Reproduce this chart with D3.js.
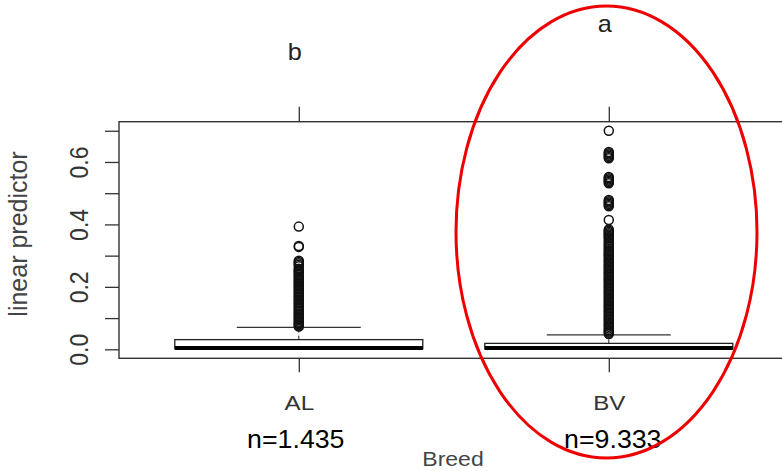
<!DOCTYPE html>
<html>
<head>
<meta charset="utf-8">
<script src="https://cdn.jsdelivr.net/npm/d3@7"></script>
<style>
  body { margin: 0; background: #fff; }
  text { font-family: "Liberation Sans", Arial, sans-serif; }
</style>
</head>
<body>
<div id="chart"></div>
<script>
// box statistics per breed
var breeds = ["AL", "BV"];
var q1 = [0.002, 0.001];
var medians = [0.004, 0.004];
var q3 = [0.031, 0.019];
var whiskLo = [0.0, 0.0];
var whiskHi = [0.070, 0.046];
var nLabels = ["n=1.435", "n=9.333"];
var groupLetters = ["b", "a"];

// outliers
var outAL = [0.393, 0.331, 0.328, 0.284, 0.280, 0.276, 0.271, 0.266, 0.258, 0.254, 0.250,
  0.246, 0.241, 0.237, 0.232, 0.228, 0.223, 0.219, 0.214, 0.210, 0.205, 0.201, 0.196,
  0.192, 0.187, 0.183, 0.178, 0.174, 0.169, 0.165, 0.160, 0.156, 0.151, 0.147, 0.142,
  0.138, 0.133, 0.129, 0.124, 0.120, 0.115, 0.111, 0.106, 0.102, 0.097, 0.093, 0.088,
  0.084, 0.080, 0.076, 0.073];
var outBV = [0.700, 0.632, 0.628, 0.624, 0.620, 0.616, 0.612, 0.552, 0.548, 0.544, 0.540,
  0.536, 0.532, 0.478, 0.474, 0.470, 0.466, 0.462, 0.458, 0.414, 0.384, 0.380, 0.376,
  0.372, 0.368, 0.364, 0.360, 0.355, 0.349, 0.343, 0.338, 0.333, 0.328, 0.322, 0.317,
  0.312, 0.307, 0.302, 0.297, 0.292, 0.287, 0.282, 0.277, 0.272, 0.267, 0.262, 0.257,
  0.252, 0.247, 0.242, 0.237, 0.232, 0.227, 0.222, 0.217, 0.212, 0.207, 0.202, 0.197,
  0.192, 0.187, 0.182, 0.177, 0.172, 0.167, 0.162, 0.157, 0.152, 0.147, 0.142, 0.137,
  0.132, 0.127, 0.122, 0.117, 0.112, 0.107, 0.102, 0.097, 0.092, 0.087, 0.082, 0.077,
  0.072, 0.067, 0.062, 0.057, 0.053, 0.049];
var outliers = [outAL, outBV];

var yTicks = [0, 0.1, 0.2, 0.3, 0.4, 0.5, 0.6, 0.7];

var width = 782, height = 471;
var plot = { left: 119, right: 788.6, top: 121.7, bottom: 358.3 };
var stretch = 1.15; // screenshot is a bit wider than tall

var svg = d3.select("#chart").append("svg")
  .attr("width", width)
  .attr("height", height);

// R style: categories at 1..n, x range padded by 4%
var x = d3.scaleLinear().domain([0.42, 2.58]).range([plot.left, plot.right]);
var y = d3.scaleLinear().domain([-0.0288, 0.729]).range([plot.bottom, plot.top]);

var ink = "#222";

function wideText(px, py, s) {
  return "translate(" + px + "," + py + ") scale(" + (s || stretch) + ",1)";
}

// boxes
breeds.forEach(function(b, i) {
  var cx = x(i + 1);
  var g = svg.append("g").attr("class", "box " + b);

  // whiskers
  g.append("line")
    .attr("x1", cx).attr("x2", cx)
    .attr("y1", y(q3[i])).attr("y2", y(whiskHi[i]))
    .attr("stroke", ink).attr("stroke-dasharray", "4,3");
  g.append("line")
    .attr("x1", x(i + 1 - 0.2)).attr("x2", x(i + 1 + 0.2))
    .attr("y1", y(whiskHi[i])).attr("y2", y(whiskHi[i]))
    .attr("stroke", "#333").attr("stroke-width", 1.3);

  g.append("rect")
    .attr("x", x(i + 1 - 0.4))
    .attr("width", x(i + 1 + 0.4) - x(i + 1 - 0.4))
    .attr("y", y(q3[i]))
    .attr("height", y(q1[i]) - y(q3[i]))
    .attr("fill", "#fff")
    .attr("stroke", ink)
    .attr("stroke-width", 1.3);

  g.append("line")
    .attr("x1", x(i + 1 - 0.4)).attr("x2", x(i + 1 + 0.4))
    .attr("y1", y(medians[i])).attr("y2", y(medians[i]))
    .attr("stroke", "#000").attr("stroke-width", 4);

  g.selectAll("circle")
    .data(outliers[i])
    .enter()
    .append("circle")
    .attr("cx", cx)
    .attr("cy", function(d) { return y(d); })
    .attr("r", 4.5)
    .attr("fill", "none")
    .attr("stroke", "#111")
    .attr("stroke-width", 1.5);
});

// frame
svg.append("rect")
  .attr("x", plot.left).attr("y", plot.top)
  .attr("width", plot.right - plot.left)
  .attr("height", plot.bottom - plot.top)
  .attr("fill", "none")
  .attr("stroke", "#333")
  .attr("stroke-width", 1.4);

// y axis, labels only every 0.2 like R drops them
var yAxis = svg.append("g")
  .attr("transform", "translate(" + plot.left + ",0)")
  .call(d3.axisLeft(y).tickValues(yTicks).tickSize(14).tickSizeOuter(0)
    .tickFormat(function(d, i) { return i % 2 == 0 ? d3.format(".1f")(d) : ""; }));
yAxis.select(".domain").remove();
yAxis.selectAll(".tick line").attr("stroke", "#333").attr("stroke-width", 1.3);
yAxis.selectAll(".tick text")
  .attr("transform", "rotate(-90) scale(1," + stretch + ")")
  .attr("x", 0)
  .attr("y", -31 / stretch)
  .attr("dy", 0)
  .attr("text-anchor", "middle")
  .attr("fill", "#333")
  .style("font-size", "23px")
  .style("font-family", "Liberation Sans, Arial, sans-serif");

// bottom axis with breed names
var xAxis = svg.append("g")
  .attr("transform", "translate(0," + plot.bottom + ")")
  .call(d3.axisBottom(x).tickValues([1, 2]).tickSize(14).tickSizeOuter(0)
    .tickFormat(function(d) { return breeds[d - 1]; }));
xAxis.select(".domain").remove();
xAxis.selectAll(".tick line").attr("stroke", "#333").attr("stroke-width", 1.3);
xAxis.selectAll(".tick text")
  .attr("transform", wideText(0, 51.7))
  .attr("y", 0)
  .attr("dy", 0)
  .attr("fill", "#333")
  .style("font-size", "21px")
  .style("font-family", "Liberation Sans, Arial, sans-serif");

// top axis, ticks only
var topAxis = svg.append("g")
  .attr("transform", "translate(0," + plot.top + ")")
  .call(d3.axisTop(x).tickValues([1, 2]).tickSize(15).tickSizeOuter(0).tickFormat(""));
topAxis.select(".domain").remove();
topAxis.selectAll(".tick line").attr("stroke", "#333").attr("stroke-width", 1.3);

// group letters above
var letterY = [60, 32];
svg.selectAll(".letter")
  .data(groupLetters)
  .enter()
  .append("text")
  .attr("class", "letter")
  .attr("transform", function(d, i) { return wideText(x(i + 1) - 4, letterY[i], 1.1); })
  .attr("text-anchor", "middle")
  .attr("fill", "#222")
  .style("font-size", "23px")
  .text(function(d) { return d; });

// sample sizes
svg.selectAll(".nlab")
  .data(nLabels)
  .enter()
  .append("text")
  .attr("class", "nlab")
  .attr("transform", function(d, i) { return wideText(x(i + 1) + (i == 0 ? -3 : 4), 448, 1.07); })
  .attr("text-anchor", "middle")
  .attr("fill", "#000")
  .style("font-size", "25px")
  .text(function(d) { return d; });

// axis titles
svg.append("text")
  .attr("transform", wideText(453, 466))
  .attr("text-anchor", "middle")
  .attr("fill", "#444")
  .style("font-size", "20px")
  .text("Breed");

svg.append("text")
  .attr("transform", "translate(27,234) rotate(-90)")
  .attr("text-anchor", "middle")
  .attr("fill", "#444")
  .style("font-size", "25px")
  .text("linear predictor");

// red highlight ellipse around BV
svg.append("ellipse")
  .attr("cx", 606.5)
  .attr("cy", 232)
  .attr("rx", 150.5)
  .attr("ry", 226)
  .attr("fill", "none")
  .attr("stroke", "#ee0000")
  .attr("stroke-width", 3);
</script>
</body>
</html>
